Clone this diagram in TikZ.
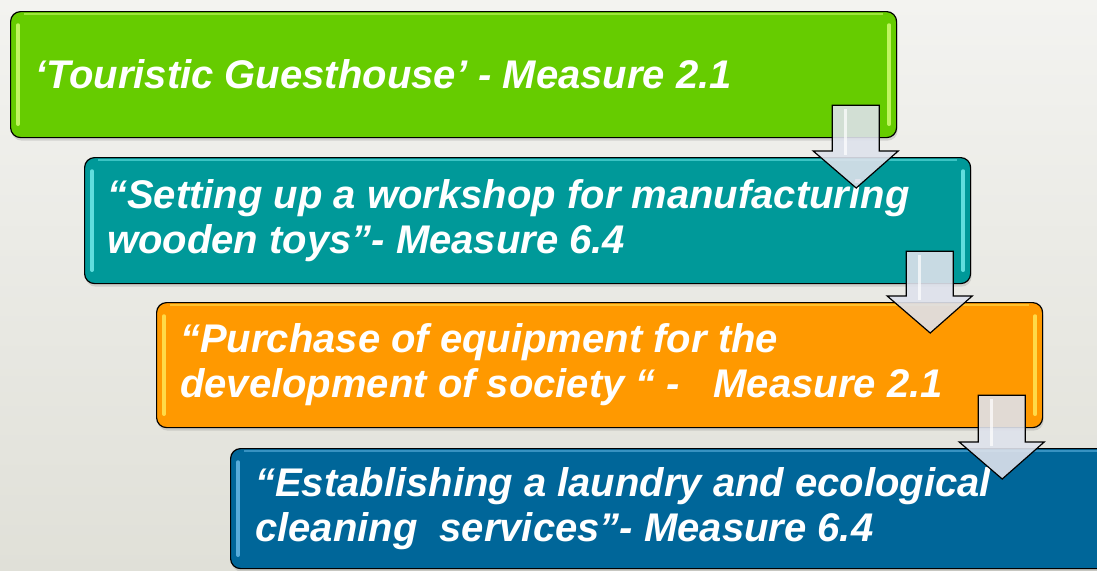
\documentclass[tikz,border=0pt]{standalone}
\usepackage{fontspec}
\setmainfont{Liberation Sans}
\usetikzlibrary{shadows,calc}
\definecolor{bgtop}{RGB}{243,243,240}
\definecolor{bgbot}{RGB}{224,224,216}
\definecolor{cgreen}{RGB}{102,204,0}
\definecolor{cteal}{RGB}{0,153,153}
\definecolor{corange}{RGB}{255,153,0}
\definecolor{cblue}{RGB}{0,102,153}
\definecolor{hgreen}{RGB}{214,255,120}
\definecolor{hteal}{RGB}{120,240,240}
\definecolor{horange}{RGB}{255,235,90}
\definecolor{hblue}{RGB}{110,190,235}
\definecolor{arrowfill}{RGB}{222,226,236}
\tikzset{
  stagebox/.style={draw=black, line width=1.2pt, rounded corners=10pt, anchor=north west, inner sep=0pt,
    drop shadow={shadow xshift=1pt, shadow yshift=-3pt, opacity=0.25}},
  stagetext/.style={anchor=west, text=white, font=\fontsize{40}{45}\selectfont\bfseries\itshape, align=left, inner sep=0pt},
  gloss/.style={line width=3.5pt, line cap=round, opacity=0.8},
  flowarrow/.style={draw=black, line width=1.2pt, fill=arrowfill, fill opacity=0.9, line join=miter},
}
\newcommand\glossbox[2]{%
  \draw[gloss, #2] ([xshift=8pt,yshift=-14pt]#1.north west) -- ([xshift=8pt,yshift=14pt]#1.south west);
  \draw[gloss, #2] ([xshift=-8pt,yshift=-14pt]#1.north east) -- ([xshift=-8pt,yshift=14pt]#1.south east);
  \draw[line width=1.5pt, #2, opacity=0.5] ([xshift=14pt,yshift=-3pt]#1.north west) -- ([xshift=-14pt,yshift=-3pt]#1.north east);
}
\newcommand\flowarr[2]{%
  \draw[flowarrow] let \p1=(#1.south east), \p2=(#2.north) in
    (\x1-65pt,\y1+33pt) -- (\x1-18pt,\y1+33pt) -- (\x1-18pt,\y2+6pt) -- (\x1+1pt,\y2+6pt)
    -- (\x1-41pt,\y2-31pt) -- (\x1-84pt,\y2+6pt) -- (\x1-65pt,\y2+6pt) -- cycle;
  \draw[white, opacity=0.7, line width=3pt] let \p1=(#1.south east), \p2=(#2.north) in
    (\x1-52pt,\y1+29pt) -- (\x1-52pt,\y2+2pt);
}
\begin{document}
\begin{tikzpicture}[x=1pt,y=-1pt]
\useasboundingbox (0,0) rectangle (1097,570);
\shade[top color=bgtop, bottom color=bgbot] (0,0) rectangle (1097,570);

\node[stagebox, fill=cgreen, minimum width=886pt, minimum height=126pt] (b1) at (10,11) {};
\node[stagebox, fill=cteal, minimum width=886pt, minimum height=126pt] (b2) at (84,157) {};
\node[stagebox, fill=corange, minimum width=886pt, minimum height=125pt] (b3) at (156,302) {};
\node[stagebox, fill=cblue, minimum width=886pt, minimum height=120pt] (b4) at (230,448) {};

\glossbox{b1}{hgreen}
\glossbox{b2}{hteal}
\glossbox{b3}{horange}
\glossbox{b4}{hblue}

\node[stagetext] (t1) at ([xshift=25pt]b1.west) {‘Touristic Guesthouse’ - Measure 2.1};
\node[stagetext] (t2) at ([xshift=23pt]b2.west) {“Setting up a workshop for manufacturing\\wooden toys”- Measure 6.4};
\node[stagetext] (t3) at ([xshift=24pt]b3.west) {“Purchase of equipment for the\\development of society “ -\ \ \ Measure 2.1};
\node[stagetext] (t4) at ([xshift=25pt]b4.west) {“Establishing a laundry and ecological\\cleaning\ \ services”- Measure 6.4};

\flowarr{b1}{b2}
\flowarr{b2}{b3}
\flowarr{b3}{b4}
\end{tikzpicture}
\end{document}
